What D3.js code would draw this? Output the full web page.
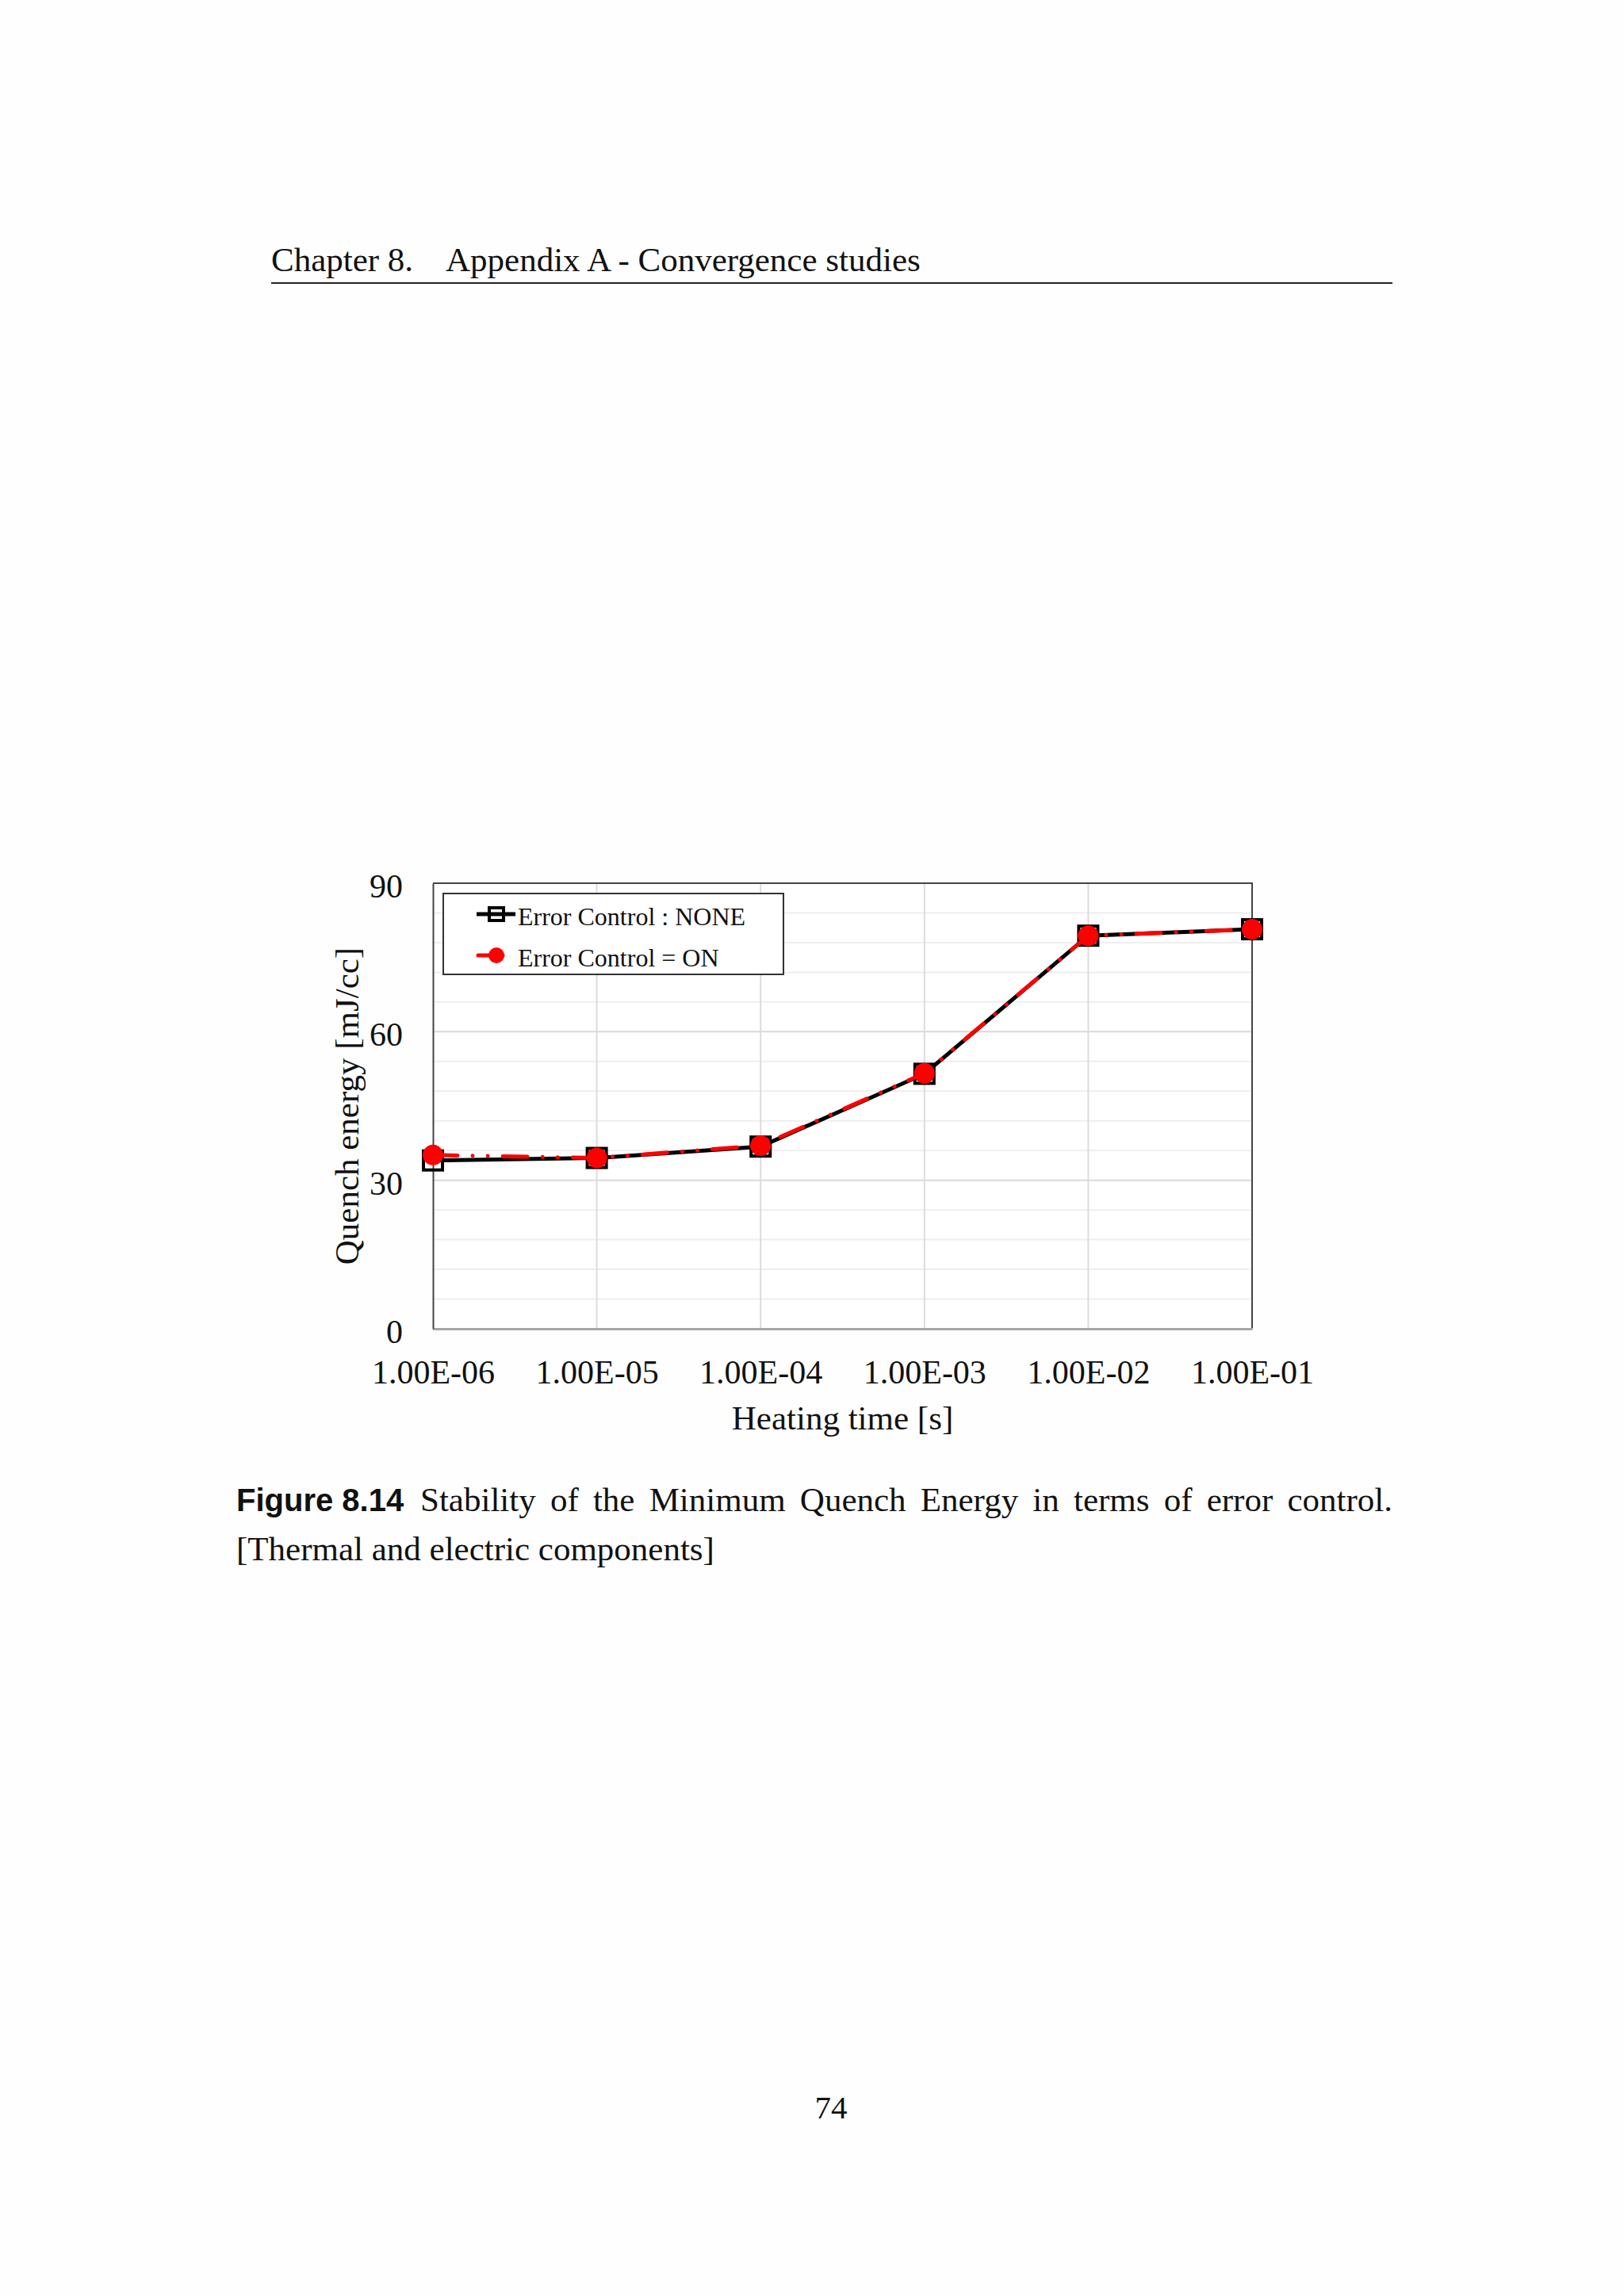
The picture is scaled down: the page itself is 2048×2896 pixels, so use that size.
<!DOCTYPE html>
<html>
  <head>
    <meta charset="utf-8">
    <title>Quench energy vs heating time</title>
    <script type="text/javascript" src="https://d3js.org/d3.v7.min.js"></script>
    <style>
      body { margin: 0; background: #fefefe; }
      svg { font-family: "Liberation Serif", "Times New Roman", serif; }
    </style>
  </head>
  <body>
    <svg width="2048" height="2896"></svg>
    <script>
      // data
      var heatingTime = [1e-6, 1e-5, 1e-4, 1e-3, 1e-2, 1e-1];
      var xTickLabels = ["1.00E-06", "1.00E-05", "1.00E-04", "1.00E-03", "1.00E-02", "1.00E-01"];
      var qeNone = [34.0, 34.5, 36.8, 51.5, 79.4, 80.7];   // Error Control : NONE
      var qeOn = [35.1, 34.5, 37.0, 51.6, 79.4, 80.7];     // Error Control = ON
      var yTicks = [0, 30, 60, 90];
      var yMinorStep = 6;
      var seriesNames = ["Error Control : NONE", "Error Control = ON"];

      var svg = d3.select("svg");
      var plot = {left: 546, right: 1579, top: 1114, bottom: 1676};

      svg.append("rect").attr("width", 2048).attr("height", 2896).attr("fill", "#fefefe");

      // page header
      svg.append("text").attr("x", 342).attr("y", 342).attr("font-size", 43).attr("fill", "#111").text("Chapter 8.");
      svg.append("text").attr("x", 562).attr("y", 342).attr("font-size", 43).attr("fill", "#111").text("Appendix A - Convergence studies");
      svg.append("line").attr("x1", 342).attr("x2", 1756).attr("y1", 357).attr("y2", 357)
        .attr("stroke", "#222").attr("stroke-width", 2);

      var x = d3.scaleLog().domain([1e-6, 1e-1]).range([plot.left, plot.right]);
      var y = d3.scaleLinear().domain([0, 90]).range([plot.bottom, plot.top]);

      var g = svg.append("g");

      g.append("rect")
        .attr("x", plot.left).attr("y", plot.top)
        .attr("width", plot.right - plot.left).attr("height", plot.bottom - plot.top)
        .attr("fill", "#ffffff");

      // minor horizontal grid
      var minor = d3.range(yMinorStep, 90, yMinorStep).filter(function(v){ return v % 30 != 0; });
      g.selectAll(".hminor").data(minor).enter().append("line")
        .attr("x1", plot.left).attr("x2", plot.right)
        .attr("y1", function(d){ return y(d); }).attr("y2", function(d){ return y(d); })
        .attr("stroke", "#eeeeee").attr("stroke-width", 2);

      // major horizontal grid
      g.selectAll(".hmajor").data([30, 60]).enter().append("line")
        .attr("x1", plot.left).attr("x2", plot.right)
        .attr("y1", function(d){ return y(d); }).attr("y2", function(d){ return y(d); })
        .attr("stroke", "#d9d9d9").attr("stroke-width", 2);

      // vertical grid at decades
      g.selectAll(".vgrid").data(heatingTime.slice(1, -1)).enter().append("line")
        .attr("x1", function(d){ return x(d); }).attr("x2", function(d){ return x(d); })
        .attr("y1", plot.top).attr("y2", plot.bottom)
        .attr("stroke", "#dcdcdc").attr("stroke-width", 2);

      // frame
      g.append("path")
        .attr("d", "M" + plot.left + "," + plot.top + "H" + plot.right + "V" + plot.bottom)
        .attr("fill", "none").attr("stroke", "#444").attr("stroke-width", 2);

      // axes
      var xAxis = d3.axisBottom(x)
        .tickValues(heatingTime)
        .tickFormat(function(d, i){ return xTickLabels[i]; })
        .tickSize(0).tickPadding(0);
      var gx = g.append("g").attr("transform", "translate(0," + plot.bottom + ")").call(xAxis);
      gx.attr("font-family", null);
      gx.select(".domain").attr("stroke", "#a6a6a6").attr("stroke-width", 3);
      gx.selectAll("text")
        .attr("y", 69).attr("dy", null)
        .attr("font-size", 42).attr("fill", "#111");

      var yAxis = d3.axisLeft(y).tickValues(yTicks).tickSize(0).tickPadding(0);
      var gy = g.append("g").attr("transform", "translate(" + plot.left + ",0)").call(yAxis);
      gy.attr("font-family", null);
      gy.select(".domain").attr("stroke", "#444").attr("stroke-width", 2);
      gy.selectAll("text")
        .attr("x", -38).attr("dy", "0.42em")
        .attr("font-size", 42).attr("fill", "#111");

      // axis titles
      g.append("text")
        .attr("x", (plot.left + plot.right) / 2).attr("y", 1803)
        .attr("text-anchor", "middle").attr("font-size", 43).attr("fill", "#111")
        .text("Heating time [s]");
      g.append("text")
        .attr("transform", "translate(452," + (plot.top + plot.bottom) / 2 + ") rotate(-90)")
        .attr("text-anchor", "middle").attr("font-size", 43).attr("fill", "#111")
        .text("Quench energy [mJ/cc]");

      // series
      var redDash = "31,19,0.1,19,0.1,19";
      var line = d3.line()
        .x(function(d){ return x(d[0]); })
        .y(function(d){ return y(d[1]); });

      var noneData = d3.zip(heatingTime, qeNone);
      var onData = d3.zip(heatingTime, qeOn);

      g.append("path").datum(noneData)
        .attr("d", line).attr("fill", "none")
        .attr("stroke", "#000").attr("stroke-width", 5);

      g.selectAll(".sq").data(noneData).enter().append("rect")
        .attr("x", function(d){ return x(d[0]) - 12; })
        .attr("y", function(d){ return y(d[1]) - 12; })
        .attr("width", 24).attr("height", 24)
        .attr("fill", "none").attr("stroke", "#000").attr("stroke-width", 4);

      g.append("path").datum(onData)
        .attr("d", line).attr("fill", "none")
        .attr("stroke", "#ff0000").attr("stroke-width", 5)
        .attr("stroke-linecap", "round")
        .attr("stroke-dasharray", redDash);

      g.selectAll(".dot").data(onData).enter().append("circle")
        .attr("cx", function(d){ return x(d[0]); })
        .attr("cy", function(d){ return y(d[1]); })
        .attr("r", 13).attr("fill", "#ff0000");

      // legend
      var lg = g.append("g");
      lg.append("rect")
        .attr("x", 559).attr("y", 1127).attr("width", 429).attr("height", 102)
        .attr("fill", "#ffffff").attr("stroke", "#333").attr("stroke-width", 2);

      var rowY = [1153, 1205];
      lg.append("line").attr("x1", 601).attr("x2", 650).attr("y1", rowY[0]).attr("y2", rowY[0])
        .attr("stroke", "#000").attr("stroke-width", 5);
      lg.append("rect").attr("x", 626 - 9).attr("y", rowY[0] - 8).attr("width", 18).attr("height", 16)
        .attr("fill", "none").attr("stroke", "#000").attr("stroke-width", 4);
      lg.append("line").attr("x1", 603).attr("x2", 650).attr("y1", rowY[1]).attr("y2", rowY[1])
        .attr("stroke", "#ff0000").attr("stroke-width", 5)
        .attr("stroke-linecap", "round").attr("stroke-dasharray", redDash);
      lg.append("circle").attr("cx", 626).attr("cy", rowY[1]).attr("r", 10).attr("fill", "#ff0000");

      lg.selectAll(".ltext").data(seriesNames).enter().append("text")
        .attr("x", 653).attr("y", function(d, i){ return rowY[i] + 14; })
        .attr("font-size", 32).attr("fill", "#111")
        .text(function(d){ return d; });

      // caption
      var capY1 = 1906, capY2 = 1968, capLeft = 298, capRight = 1756;
      svg.append("text").attr("x", capLeft).attr("y", capY1)
        .attr("font-family", "'Liberation Sans', Arial, sans-serif").attr("font-weight", "bold")
        .attr("font-size", 40).attr("fill", "#111")
        .text("Figure 8.14");
      var words = "Stability of the Minimum Quench Energy in terms of error control.".split(" ");
      var start = 530;
      var wt = svg.selectAll(".capword").data(words).enter().append("text")
        .attr("y", capY1).attr("font-size", 43).attr("fill", "#111").text(function(d){ return d; });
      var widths = [];
      wt.each(function(){ widths.push(this.getComputedTextLength()); });
      var gap = (capRight - start - d3.sum(widths)) / (words.length - 1);
      var cx = start;
      wt.attr("x", function(d, i){ var p = cx; cx += widths[i] + gap; return p; });

      svg.append("text").attr("x", capLeft).attr("y", capY2).attr("font-size", 43).attr("fill", "#111")
        .text("[Thermal and electric components]");

      // page number
      svg.append("text").attr("x", 1048).attr("y", 2672).attr("text-anchor", "middle")
        .attr("font-size", 41).attr("fill", "#111").text("74");
    </script>
  </body>
</html>
